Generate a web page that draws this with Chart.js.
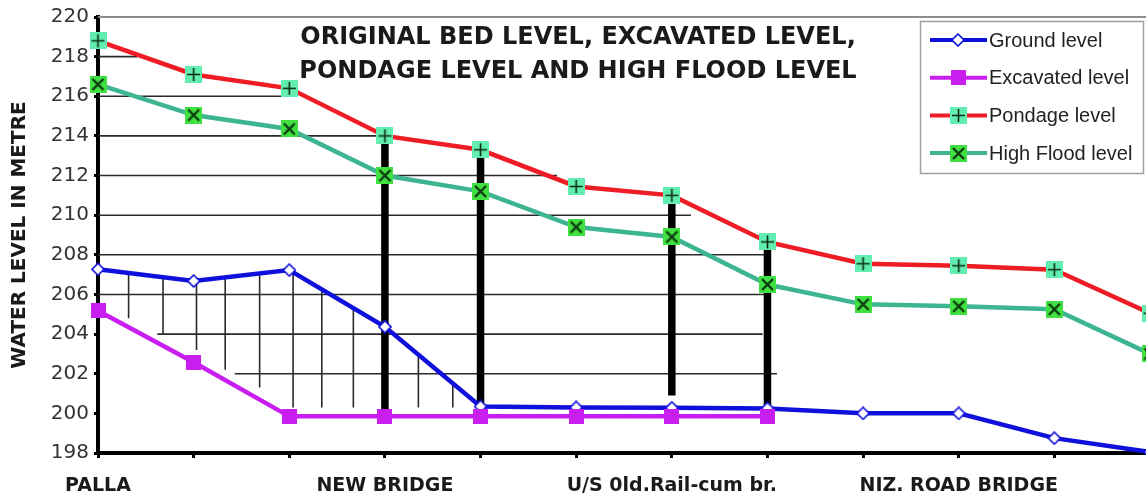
<!DOCTYPE html>
<html>
<head>
<meta charset="utf-8">
<script src="https://cdn.jsdelivr.net/npm/chart.js@4/dist/chart.umd.min.js"></script>
<style>
  html, body { margin: 0; padding: 0; background: #ffffff; overflow: hidden; }
  #wrap { position: relative; width: 1167px; height: 498px; }
</style>
</head>
<body>
<div id="wrap"><canvas id="c" width="1167" height="498"></canvas></div>
<script>
// ---------------- DATA ----------------
const stations = [0, 1, 2, 3, 4, 5, 6, 7, 8, 9, 10, 11];
const stationLabels = ['PALLA', '', '', 'NEW BRIDGE', '', '', 'U/S 0ld.Rail-cum br.', '', '', 'NIZ. ROAD BRIDGE', '', ''];
const seriesNames = ['Ground level', 'Excavated level', 'Pondage level', 'High Flood level'];
const groundLevel    = [207.27, 206.68, 207.23, 204.37, 200.35, 200.3, 200.28, 200.25, 200.0, 200.0, 198.75, 198.05];
const excavatedLevel = [205.18, 202.58, 199.85, 199.85, 199.85, 199.85, 199.85, 199.85, null, null, null, null];
const pondageLevel   = [218.8, 217.1, 216.4, 214.0, 213.3, 211.45, 211.0, 208.65, 207.55, 207.45, 207.25, 205.05];
const highFloodLevel = [216.6, 215.05, 214.35, 212.0, 211.2, 209.4, 208.9, 206.5, 205.5, 205.4, 205.25, 203.0];
const yTickMin = 198, yTickMax = 220, yTickStep = 2;
const titleLines = ['ORIGINAL BED LEVEL, EXCAVATED LEVEL,', 'PONDAGE LEVEL AND HIGH FLOOD LEVEL'];
const yTitle = 'WATER LEVEL IN METRE';

// hand-drawn guide lines of the original, in data units
// [level, fromStation, toStation]
const levelLines = [
  [218, 0, 0.41], [216, 0, 2.0], [214, 0, 3.0], [212, 0, 4.8], [210, 0, 6.2],
  [208, 0, 7.0], [206, 0, 7.0], [204, 0.62, 6.95], [202, 1.43, 7.1]
];
const topLine = [220, 0, 11];
// [station, topLevel, bottomLevel]
const hatchVerticals = [
  [0.32, 207.1, 204.8], [0.68, 206.9, 204.0], [1.03, 206.7, 203.2], [1.33, 206.86, 202.2],
  [1.69, 207.05, 201.3], [2.04, 207.1, 200.3], [2.34, 206.26, 200.3], [2.67, 205.31, 200.3],
  [3.35, 202.96, 200.3], [3.71, 201.52, 200.3]
];
const structureBars = [[3, 214.0, 200.0], [4, 213.2, 200.4], [6, 210.8, 200.9], [7, 208.4, 200.4]];

// ---------------- helpers ----------------
const COL = { ground: '#1010dc', excav: '#c81ef0', pond: '#ee1c24', flood: '#3db592' };

function mk(w, h, fn) { const c = document.createElement('canvas'); c.width = w; c.height = h; fn(c.getContext('2d')); return c; }
const mGround = mk(14, 14, g => {
  g.beginPath(); g.moveTo(7, 1); g.lineTo(13, 7); g.lineTo(7, 13); g.lineTo(1, 7); g.closePath();
  g.fillStyle = '#fff'; g.fill(); g.lineWidth = 1.6; g.strokeStyle = COL.ground; g.stroke();
});
const mExcav = mk(15, 15, g => { g.fillStyle = COL.excav; g.fillRect(0, 0, 15, 15); });
const mPond = mk(17, 17, g => {
  g.fillStyle = '#62eeb0'; g.fillRect(0, 0, 17, 17);
  g.strokeStyle = '#0b2a14'; g.lineWidth = 1.6;
  g.beginPath(); g.moveTo(8.5, 2); g.lineTo(8.5, 15); g.moveTo(2, 8.5); g.lineTo(15, 8.5); g.stroke();
});
const mFlood = mk(17, 17, g => {
  g.fillStyle = '#3fe03f'; g.fillRect(0, 0, 17, 17);
  g.strokeStyle = '#0c3a12'; g.lineWidth = 2.4;
  g.beginPath(); g.moveTo(3, 3); g.lineTo(14, 14); g.moveTo(14, 3); g.lineTo(3, 14); g.stroke();
});

const toXY = arr => stations.map((s, i) => ({ x: s, y: arr[i] }));
function hSegs(list) { const d = []; list.forEach(([lv, a, b]) => { d.push({ x: a, y: lv }, { x: b, y: lv }, { x: b, y: null }); }); return d; }
function vSegs(list) { const d = []; list.forEach(([s, t, b]) => { d.push({ x: s, y: t }, { x: s, y: b }, { x: s, y: null }); }); return d; }

const guide = (data, color, width, order) => ({
  data, borderColor: color, borderWidth: width, pointRadius: 0, spanGaps: false,
  tension: 0, order, clip: false, borderCapStyle: 'butt'
});
const series = (label, data, color, marker, order) => ({
  label, data: toXY(data), borderColor: color, backgroundColor: color, borderWidth: 4.5,
  pointStyle: marker, pointRadius: 8, pointHoverRadius: 8, spanGaps: false, tension: 0, order, clip: false
});

const datasets = [
  guide([{ x: topLine[1], y: topLine[0] }, { x: topLine[2], y: topLine[0] }], '#8c8c8c', 2, 12),
  guide(hSegs(levelLines), '#2a2a2a', 1.6, 11),
  guide(vSegs(hatchVerticals), '#2a2a2a', 1.6, 10),
  guide(vSegs(structureBars), '#000000', 7.5, 9),
  series(seriesNames[0], groundLevel, COL.ground, mGround, 4),
  series(seriesNames[1], excavatedLevel, COL.excav, mExcav, 3),
  series(seriesNames[2], pondageLevel, COL.pond, mPond, 2),
  series(seriesNames[3], highFloodLevel, COL.flood, mFlood, 1)
];

const legendItems = [
  { label: seriesNames[0], color: COL.ground, marker: mGround },
  { label: seriesNames[1], color: COL.excav, marker: mExcav },
  { label: seriesNames[2], color: COL.pond, marker: mPond },
  { label: seriesNames[3], color: COL.flood, marker: mFlood }
];

const overlay = {
  id: 'overlay',
  afterDraw(chart) {
    const ctx = chart.ctx;
    ctx.save();
    ctx.fillStyle = '#1a1a1a';
    ctx.font = 'bold 24px "DejaVu Sans", sans-serif';
    ctx.textAlign = 'center';
    ctx.textBaseline = 'middle';
    ctx.fillText(titleLines[0], 578, 38);
    ctx.fillText(titleLines[1], 578, 72);
    // legend box
    const bx = 920.5, by = 21.5, bw = 223, bh = 152;
    ctx.fillStyle = '#ffffff';
    ctx.fillRect(bx, by, bw, bh);
    ctx.strokeStyle = '#a0a0a0';
    ctx.lineWidth = 1.5;
    ctx.strokeRect(bx, by, bw, bh);
    ctx.font = '20px "Liberation Sans", Arial, sans-serif';
    ctx.textAlign = 'left';
    legendItems.forEach((it, i) => {
      const y = 40 + i * 37.7;
      ctx.strokeStyle = it.color;
      ctx.lineWidth = 4;
      ctx.beginPath(); ctx.moveTo(930, y); ctx.lineTo(987, y); ctx.stroke();
      ctx.drawImage(it.marker, Math.round(958 - it.marker.width / 2), Math.round(y - it.marker.height / 2));
      ctx.fillStyle = '#222';
      ctx.fillText(it.label, 989, y + 1);
    });
    ctx.restore();
  }
};

new Chart(document.getElementById('c'), {
  type: 'line',
  data: { datasets },
  options: {
    responsive: false,
    animation: false,
    devicePixelRatio: 1,
    layout: { autoPadding: false, padding: { left: 0, top: 15, right: 0, bottom: 0 } },
    plugins: { legend: { display: false }, tooltip: { enabled: false }, title: { display: false } },
    events: [],
    scales: {
      x: {
        type: 'linear', min: 0, max: stations.length - 1,
        afterFit(s) { s.height = 45; },
        ticks: {
          stepSize: 1, autoSkip: false, maxRotation: 0, padding: 17,
          color: '#1a1a1a',
          font: { family: '"DejaVu Sans", sans-serif', weight: 'bold', size: 19 },
          callback: v => stationLabels[v] ?? ''
        },
        grid: { display: true, drawOnChartArea: false, drawTicks: true, tickLength: 5, lineWidth: 3, color: '#000' },
        border: { display: true, color: '#000', width: 4 }
      },
      y: {
        min: yTickMin, max: yTickMax,
        afterFit(s) { s.width = 98; },
        ticks: { stepSize: yTickStep, padding: 5, color: '#333', font: { family: '"DejaVu Sans", sans-serif', size: 20 } },
        grid: { display: true, drawOnChartArea: false, drawTicks: true, tickLength: 4, lineWidth: 3, color: '#000' },
        border: { display: true, color: '#000', width: 4 },
        title: {
          display: true, text: yTitle, color: '#1a1a1a',
          font: { family: '"DejaVu Sans", sans-serif', weight: 'bold', size: 20 },
          padding: { top: 8, bottom: 0 }
        }
      }
    }
  },
  plugins: [overlay]
});
</script>
</body>
</html>
